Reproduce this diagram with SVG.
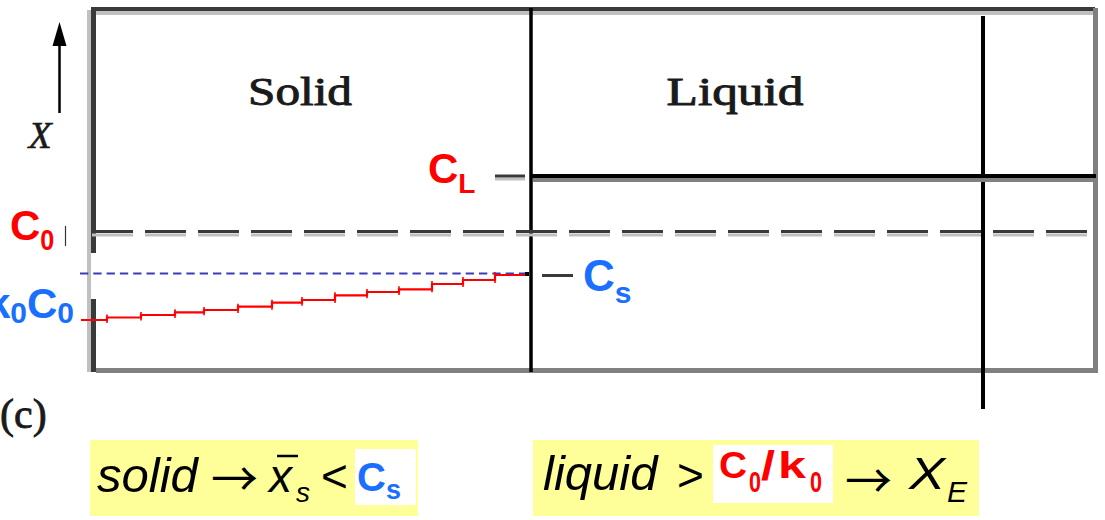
<svg xmlns="http://www.w3.org/2000/svg" width="1105" height="520" viewBox="0 0 1105 520">
<defs>
<style>
.serif{font-family:"Liberation Serif","DejaVu Serif",serif;fill:#1a1a1a;stroke:#1a1a1a}
.lbl{font-family:"Liberation Sans",Arial,sans-serif;font-weight:bold}
.red{fill:#ff0000}
.blue{fill:#1a6fff}
.eq{font-family:"Liberation Sans",Arial,sans-serif;font-style:italic;fill:#000}
.arr{font-family:"Noto Sans CJK JP","Noto Sans CJK SC",sans-serif;fill:#000}
.dark{stroke:#3a3a3a;fill:none}
.light{stroke:#c0c0c0;fill:none}
.gray{stroke:#808080;fill:none}
.blk{stroke:#000;fill:none}
</style>
<linearGradient id="fade" x1="0" y1="0" x2="1" y2="0">
<stop offset="0" stop-color="#444"/>
<stop offset="0.3" stop-color="#bbb"/>
<stop offset="1" stop-color="#eee"/>
</linearGradient>
</defs>
<rect width="1105" height="520" fill="#fff"/>

<g id="frame">
<line class="light" x1="89" y1="10" x2="89" y2="372" stroke-width="4"/>
<line class="dark" x1="93.5" y1="7" x2="93.5" y2="253" stroke-width="5"/>
<line class="dark" x1="93.5" y1="299" x2="93.5" y2="372" stroke-width="5"/>
<line class="dark" x1="91" y1="9" x2="1095" y2="9" stroke-width="4"/>
<line class="light" x1="96" y1="13" x2="1093" y2="13" stroke-width="4"/>
<line class="gray" x1="1095.5" y1="8" x2="1095.5" y2="373" stroke-width="5"/>
<line class="gray" x1="96" y1="370.5" x2="1098" y2="370.5" stroke-width="5"/>
<line x1="96" y1="301.5" x2="186" y2="301.5" stroke="url(#fade)" stroke-width="3"/>
</g>

<g id="interface">
<line class="blk" x1="531" y1="8" x2="531" y2="372" stroke-width="3.5"/>
</g>
<g id="far-line">
<line class="blk" x1="983" y1="16" x2="983" y2="409" stroke-width="4"/>
</g>

<g id="CL-line">
<line class="gray" x1="533" y1="180" x2="1096" y2="180" stroke-width="4"/>
<line class="blk" x1="531" y1="176" x2="1096" y2="176" stroke-width="4"/>
<line class="light" x1="495" y1="179" x2="525" y2="179" stroke-width="3"/>
<line class="dark" x1="495" y1="176" x2="525" y2="176" stroke-width="3"/>
</g>

<g id="C0-line">
<line class="light" x1="92" y1="235" x2="1090" y2="235" stroke-width="3" stroke-dasharray="41 12"/>
<line class="dark" x1="92" y1="231.5" x2="1090" y2="231.5" stroke-width="3" stroke-dasharray="41 12"/>
<line x1="65.5" y1="226" x2="65.5" y2="246" stroke="#333" stroke-width="1.2"/>
</g>

<g id="Cs-line">
<line x1="80" y1="273.5" x2="528" y2="273.5" stroke="#3b3bc0" stroke-width="2" stroke-dasharray="8.3 5"/>
<line class="dark" x1="542" y1="275.5" x2="573" y2="275.5" stroke-width="3"/>
</g>

<g id="solid-profile" stroke="#ff0000" fill="none" stroke-width="2.2">
<path d="M81,320 H107 V317.5 H141 V315 H175 V312.3 H204 V310 H238 V306.7 H272 V302.7 H302 V300 H335 V295.3 H367 V292 H399 V289.3 H432 V284 H463 V280 H495 V275 H527"/>
<path stroke-width="1.6" d="M107,314.5 V323 M141,312 V320.5 M175,309.3 V318 M204,307 V315.3 M238,303.7 V313 M272,299.7 V309.7 M302,297 V305.7 M335,292.3 V303 M367,289 V298.3 M399,286.3 V295 M432,281 V292.3 M463,277 V287 M495,272 V283"/>
<rect x="525" y="272" width="4" height="4" fill="#000" stroke="none"/>
</g>

<g id="axis">
<line x1="59.5" y1="113" x2="59.5" y2="40" stroke="#000" stroke-width="2.5"/>
<polygon points="59.5,22 52.5,46 66.5,46" fill="#000"/>
<text class="serif" x="40" y="148" font-size="38" font-style="italic" stroke-width="0.6" text-anchor="middle">X</text>
</g>

<g id="labels">
<text class="serif" x="300" y="105" font-size="40" stroke-width="0.9" text-anchor="middle" textLength="104" lengthAdjust="spacingAndGlyphs">Solid</text>
<text class="serif" x="735" y="105" font-size="40" stroke-width="0.9" text-anchor="middle" textLength="137" lengthAdjust="spacingAndGlyphs">Liquid</text>
<text class="serif" x="0" y="428" font-size="42" stroke-width="0.8">(c)</text>
<text class="lbl red" x="10" y="240" font-size="42">C<tspan font-size="30" dy="10" textLength="14" lengthAdjust="spacingAndGlyphs">0</tspan></text>
<text class="lbl red" x="428" y="183" font-size="42">C<tspan font-size="28" dy="10">L</tspan></text>
<text class="lbl blue" x="583" y="291" font-size="44">C<tspan font-size="30" dy="12">s</tspan></text>
<text class="lbl blue" x="74" y="318" font-size="42" text-anchor="end">k<tspan font-size="30" dy="5">0</tspan><tspan dy="-5">C</tspan><tspan font-size="30" dy="5">0</tspan></text>
</g>

<g id="eq-solid">
<rect x="90" y="440" width="328" height="76" fill="#ffff99"/>
<rect x="355" y="449" width="61" height="56" fill="#fff"/>
<text class="eq" x="97" y="492" font-size="49">solid</text>
<text class="arr" x="211" y="496" font-size="47">→</text>
<text class="eq" x="269" y="492" font-size="46">x</text>
<line x1="277" y1="456" x2="298" y2="456" stroke="#000" stroke-width="2.5"/>
<text class="eq" x="296" y="502" font-size="28">s</text>
<text x="321" y="492" font-size="46" font-family="Liberation Sans,Arial,sans-serif" fill="#000">&lt;</text>
<text class="lbl blue" x="357" y="491" font-size="40">C<tspan font-size="27" dy="8">s</tspan></text>
</g>

<g id="eq-liquid">
<rect x="533" y="440" width="446" height="76" fill="#ffff99"/>
<rect x="713" y="445" width="120" height="58" fill="#fff"/>
<text class="eq" x="543" y="490" font-size="49">liquid</text>
<text x="677" y="491" font-size="46" font-family="Liberation Sans,Arial,sans-serif" fill="#000">&gt;</text>
<text class="lbl red" x="719" y="478" font-size="36" textLength="28" lengthAdjust="spacingAndGlyphs">C</text>
<text class="lbl red" x="749" y="492" font-size="29" textLength="12" lengthAdjust="spacingAndGlyphs">0</text>
<text class="lbl red" x="761" y="480" font-size="40" textLength="14" lengthAdjust="spacingAndGlyphs">/</text>
<text class="lbl red" x="778" y="478" font-size="36" textLength="28" lengthAdjust="spacingAndGlyphs">k</text>
<text class="lbl red" x="810" y="492" font-size="29" textLength="12" lengthAdjust="spacingAndGlyphs">0</text>
<text class="arr" x="845" y="498" font-size="47">→</text>
<text class="eq" x="909" y="489" font-size="44" textLength="36" lengthAdjust="spacingAndGlyphs">X</text>
<text class="eq" x="947" y="502" font-size="30">E</text>
</g>
</svg>
